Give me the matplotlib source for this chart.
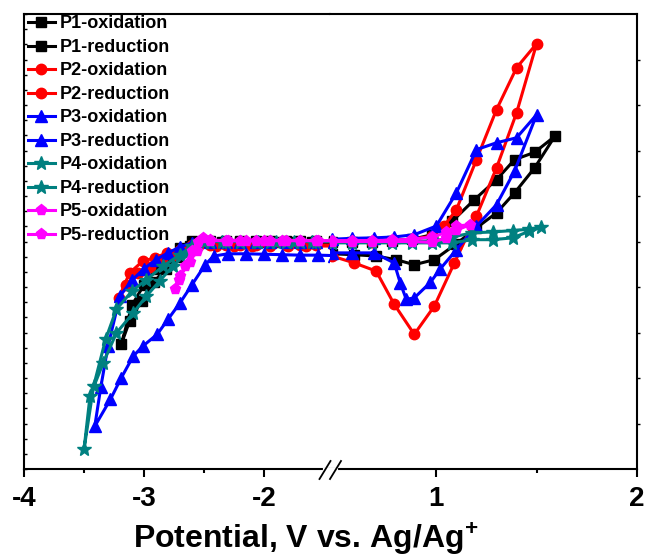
import matplotlib
matplotlib.use("Agg")
import matplotlib.pyplot as plt
from matplotlib.lines import Line2D

plt.rcParams["font.family"] = ["Liberation Sans", "DejaVu Sans"]
plt.rcParams["font.weight"] = "bold"
plt.rcParams["axes.unicode_minus"] = False
plt.rcParams["mathtext.fontset"] = "custom"
plt.rcParams["mathtext.bf"] = "Liberation Sans:bold"
plt.rcParams["mathtext.rm"] = "Liberation Sans:bold"

# ---- oxidation scans (positive window), potential V vs Ag/Ag+, current in arbitrary units ----
p1_ox_v = [0.48, 0.58, 0.68, 0.78, 0.88, 0.98, 1.08, 1.19, 1.30, 1.39, 1.49, 1.59,
           1.49, 1.39, 1.30, 1.20, 1.10, 0.99, 0.89, 0.80, 0.70, 0.59, 0.48]
p1_ox_i = [-0.02, 0.0, 0.0, 0.02, 0.05, 0.15, 0.45, 0.92, 1.36, 1.80, 1.96, 2.31,
           1.62, 1.07, 0.63, 0.30, -0.05, -0.40, -0.51, -0.40, -0.32, -0.29, -0.27]

p2_ox_v = [0.48, 0.58, 0.68, 0.78, 0.88, 0.98, 1.04, 1.10, 1.20, 1.30, 1.40, 1.50,
           1.40, 1.30, 1.20, 1.09, 0.99, 0.89, 0.79, 0.70, 0.59, 0.48]
p2_ox_i = [0.0, 0.0, 0.0, 0.02, 0.05, 0.12, 0.35, 0.70, 1.80, 2.90, 3.82, 4.35,
           2.83, 1.62, 0.56, -0.47, -1.42, -2.04, -1.38, -0.65, -0.47, -0.32]

p3_ox_v = [0.48, 0.58, 0.69, 0.79, 0.89, 1.00, 1.10, 1.20, 1.30, 1.40, 1.50,
           1.39, 1.30, 1.20, 1.10, 1.02, 0.97, 0.89, 0.85, 0.82, 0.79, 0.69, 0.58, 0.48]
p3_ox_i = [0.05, 0.07, 0.08, 0.10, 0.15, 0.34, 1.07, 2.02, 2.17, 2.28, 2.79,
           1.55, 0.81, 0.34, -0.18, -0.60, -0.90, -1.24, -1.27, -0.91, -0.47, -0.25, -0.25, -0.25]

p4_ox_v = [0.48, 0.58, 0.68, 0.78, 0.88, 1.00, 1.08, 1.18, 1.28, 1.38, 1.46, 1.52,
           1.46, 1.38, 1.28, 1.18, 1.08, 0.98, 0.88, 0.78, 0.68, 0.58, 0.48]
p4_ox_i = [0.0, 0.0, 0.0, 0.0, 0.0, 0.02, 0.10, 0.19, 0.21, 0.24, 0.27, 0.31,
           0.22, 0.08, 0.04, 0.04, -0.03, -0.03, -0.03, -0.03, -0.03, -0.03, -0.03]

p5_ox_v = [0.48, 0.58, 0.68, 0.78, 0.88, 0.98, 1.05, 1.10, 1.17,
           1.10, 1.05, 0.98, 0.88, 0.78, 0.68, 0.58, 0.48]
p5_ox_i = [0.02, 0.02, 0.02, 0.03, 0.05, 0.10, 0.20, 0.34, 0.37,
           0.25, 0.08, -0.02, 0.0, 0.0, 0.0, 0.0, 0.0]

# ---- reduction scans (negative window) ----
p1_red_v = [-1.42, -1.57, -1.70, -1.82, -1.95, -2.07, -2.20, -2.32, -2.45, -2.60, -2.70, -2.80,
            -2.90, -3.00, -3.10, -3.19, -3.12, -3.02, -2.92, -2.82, -2.72, -2.62, -2.50,
            -2.35, -2.20, -2.05, -1.90, -1.75, -1.60, -1.42]
p1_red_i = [0.02, 0.02, 0.02, 0.02, 0.02, 0.02, 0.02, 0.02, 0.02, 0.02, -0.15, -0.35,
            -0.60, -0.95, -1.40, -2.26, -1.75, -1.30, -0.90, -0.60, -0.35, -0.10, 0.0,
            -0.02, -0.02, -0.02, -0.02, -0.02, -0.02, -0.02]

p2_red_v = [-1.42, -1.57, -1.70, -1.82, -1.95, -2.07, -2.20, -2.32, -2.45, -2.60, -2.70, -2.81,
            -2.91, -3.01, -3.12, -3.21, -3.15, -3.05, -2.95, -2.85, -2.75, -2.65, -2.55,
            -2.40, -2.25, -2.10, -1.95, -1.80, -1.65, -1.42]
p2_red_i = [-0.08, -0.08, -0.08, -0.08, -0.08, -0.08, -0.08, -0.08, -0.08, -0.07, -0.18, -0.25,
            -0.36, -0.43, -0.69, -1.24, -0.95, -0.70, -0.55, -0.42, -0.30, -0.20, -0.10,
            -0.10, -0.10, -0.10, -0.10, -0.10, -0.10, -0.10]

p3_red_v = [-1.42, -1.57, -1.70, -1.82, -1.95, -2.07, -2.20, -2.32, -2.45, -2.60, -2.70, -2.80,
            -2.90, -3.00, -3.10, -3.20, -3.30, -3.36, -3.41, -3.28, -3.19, -3.09, -3.01,
            -2.89, -2.80, -2.70, -2.60, -2.49, -2.42, -2.30, -2.15, -2.00, -1.85, -1.70,
            -1.55, -1.42]
p3_red_i = [0.0, 0.0, 0.0, 0.0, 0.0, 0.0, 0.0, 0.0, 0.0, -0.03, -0.12, -0.25,
            -0.40, -0.60, -0.85, -1.20, -2.30, -3.20, -4.06, -3.47, -3.00, -2.52, -2.30,
            -2.04, -1.71, -1.35, -0.95, -0.51, -0.32, -0.27, -0.27, -0.28, -0.29, -0.30,
            -0.30, -0.31]

p4_red_v = [-1.42, -1.57, -1.70, -1.82, -1.95, -2.07, -2.20, -2.32, -2.45, -2.55, -2.64, -2.76,
            -2.87, -2.98, -3.09, -3.23, -3.34, -3.45, -3.50, -3.42, -3.32, -3.23, -3.10,
            -2.98, -2.84, -2.70, -2.60, -2.50, -2.35, -2.20, -2.05, -1.90, -1.75, -1.60, -1.42]
p4_red_i = [0.0, 0.0, 0.0, 0.0, 0.0, 0.0, 0.0, 0.0, 0.0, -0.05, -0.25, -0.54,
            -0.87, -1.20, -1.57, -2.01, -2.67, -3.40, -4.57, -3.18, -2.15, -1.49, -1.09,
            -0.84, -0.54, -0.29, -0.10, 0.0, 0.0, 0.0, 0.0, 0.0, 0.0, 0.0, 0.0]

p5_red_v = [-1.42, -1.57, -1.70, -1.82, -1.95, -2.07, -2.20, -2.32, -2.45, -2.51, -2.56, -2.62,
            -2.70, -2.74, -2.71, -2.66, -2.60, -2.55, -2.45, -2.30, -2.15, -2.00, -1.85,
            -1.70, -1.55, -1.42]
p5_red_i = [0.02, 0.02, 0.02, 0.02, 0.02, 0.02, 0.02, 0.02, 0.03, 0.08, -0.20, -0.46,
            -0.76, -1.05, -0.85, -0.54, -0.20, 0.0, 0.02, 0.02, 0.02, 0.02, 0.02,
            0.02, 0.02, 0.02]

names = ["P1", "P2", "P3", "P4", "P5"]
colors = ["#000000", "#ff0000", "#0000ff", "#008080", "#ff00ff"]
markers = ["s", "o", "^", "*", "p"]
ox = [(p1_ox_v, p1_ox_i), (p2_ox_v, p2_ox_i), (p3_ox_v, p3_ox_i), (p4_ox_v, p4_ox_i), (p5_ox_v, p5_ox_i)]
red = [(p1_red_v, p1_red_i), (p2_red_v, p2_red_i), (p3_red_v, p3_red_i), (p4_red_v, p4_red_i),
       (p5_red_v, p5_red_i)]

W, H = 648, 557
fig = plt.figure(figsize=(W / 100, H / 100), dpi=100)
axL = fig.add_axes([24 / W, (H - 469) / H, 306 / W, 455 / H])
axR = fig.add_axes([330 / W, (H - 469) / H, 307 / W, 455 / H])

handles, labels = [], []
for name, c, m, (ov, oi), (rv, ri) in zip(names, colors, markers, ox, red):
    ms = {"*": 10, "s": 7, "o": 7.5, "^": 8, "p": 8}[m]
    kw = dict(color=c, marker=m, markersize=ms, lw=2.2, markeredgecolor=c)
    h1, = axR.plot(ov, oi, **kw)
    h2, = axL.plot(rv, ri, **kw)
    handles += [h1, h2]
    labels += [f"{name}-oxidation", f"{name}-reduction"]

for ax in (axL, axR):
    ax.set_ylim(-5, 5)
    ax.set_yticklabels([])
    for s in ax.spines.values():
        s.set_linewidth(1.5)
    ax.tick_params(axis="x", which="major", direction="out", length=6, width=1.5,
                   labelsize=20, pad=6, top=False)
    ax.tick_params(axis="x", which="minor", direction="out", length=3, width=1.5, top=False)

axL.set_xlim(-4, -1.45)
axL.set_xticks([-4, -3, -2])
axL.set_xticks([-3.5, -2.5], minor=True)
axL.spines["right"].set_visible(False)
axL.set_yticks([i / 3 for i in range(-15, 16)])
axL.tick_params(axis="y", direction="in", length=2.5, width=1, left=True, right=False)

axR.set_xlim(0.47, 2.0)
axR.set_xticks([1, 2])
axR.set_xticks([1.5], minor=True)
axR.spines["left"].set_visible(False)
axR.set_yticks(range(-4, 5))
axR.yaxis.tick_right()
axR.tick_params(axis="y", direction="out", length=2, width=1, left=False, right=True,
                labelright=False)

for ax in (axL, axR):
    for lab in ax.get_xticklabels():
        lab.set_fontweight("bold")

# axis break marks on the bottom spine
yb = (H - 470) / H
fig.add_artist(Line2D([325 / W, 336 / W], [yb, yb], color="white", lw=3))
for x0 in (319.5, 330):
    fig.add_artist(Line2D([x0 / W, (x0 + 11) / W], [(H - 479) / H, (H - 461) / H],
                          color="black", lw=1.3))

axL.legend(handles, labels, loc="upper left", bbox_to_anchor=(0.012, 0.997), frameon=False,
           prop=dict(family="Liberation Sans", weight="bold", size=13), numpoints=1,
           handlelength=1.5, handletextpad=0.25, labelspacing=0.36, borderaxespad=0, borderpad=0)

fig.text(306 / W, (H - 548) / H, r"Potential, V vs. Ag/Ag$^{\mathbf{+}}$", ha="center",
         va="baseline", fontsize=23, fontweight="bold")

fig.savefig("out.png", dpi=100)
